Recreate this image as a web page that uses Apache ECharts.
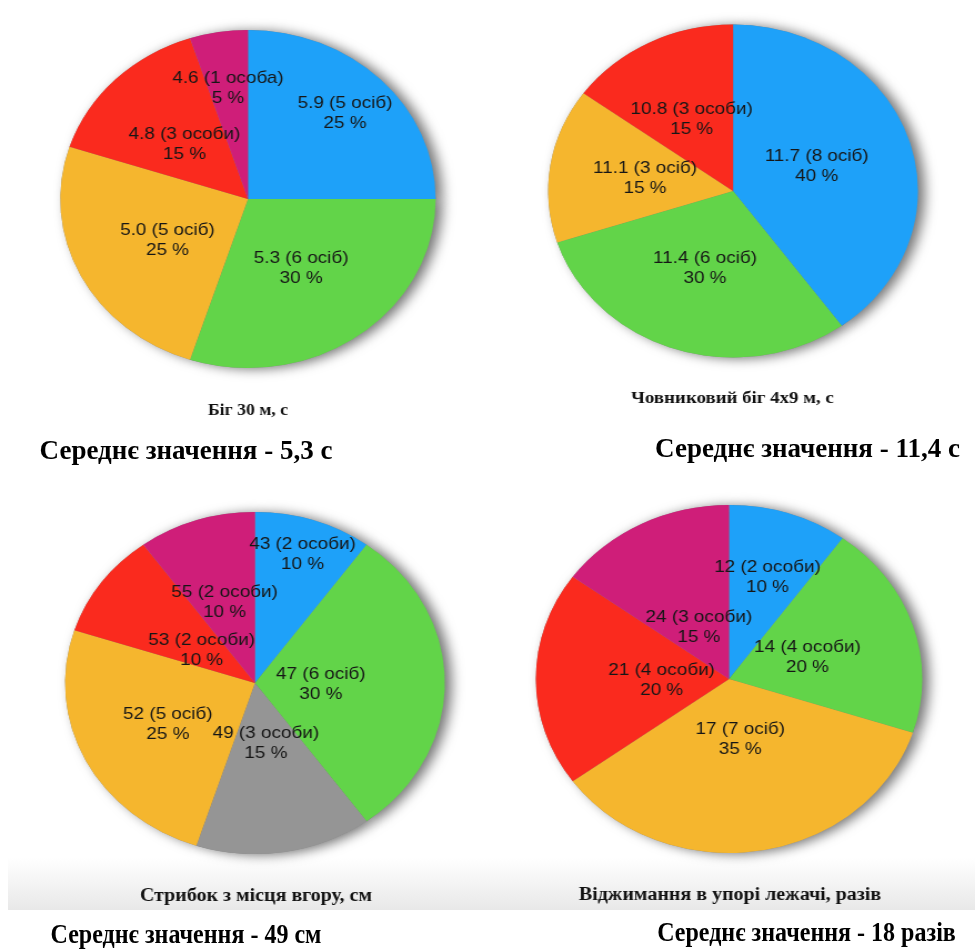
<!DOCTYPE html>
<html>
<head>
<meta charset="utf-8">
<script src="https://cdn.jsdelivr.net/npm/echarts@6/dist/echarts.min.js"></script>
<style>
  html, body { margin: 0; padding: 0; background: #ffffff; }
  #page { position: relative; width: 975px; height: 951px; overflow: hidden; }
  #notes { position: absolute; left: 0; top: 0; width: 975px; height: 951px; }
  /* the pie panels are drawn slightly widened, as in the source report */
  #pies { position: absolute; left: 0; top: 0; width: 878px; height: 951px;
          transform: scaleX(1.1105); transform-origin: 0 0; }
</style>
</head>
<body>
<div id="page">
  <div id="notes"></div>
  <div id="pies"></div>
</div>
<script>
// ---- Біг 30 м, с ----
const run30Scores = ['5.9', '5.3', '5.0', '4.8', '4.6'];
const run30Counts = [5, 6, 5, 3, 1];
const run30Words  = ['осіб', 'осіб', 'осіб', 'особи', 'особа'];

// ---- Човниковий біг 4x9 м, с ----
const shuttleScores = ['11.7', '11.4', '11.1', '10.8'];
const shuttleCounts = [8, 6, 3, 3];
const shuttleWords  = ['осіб', 'осіб', 'осіб', 'особи'];

// ---- Стрибок з місця вгору, см ----
const jumpScores = ['43', '47', '49', '52', '53', '55'];
const jumpCounts = [2, 6, 3, 5, 2, 2];
const jumpWords  = ['особи', 'осіб', 'особи', 'осіб', 'особи', 'особи'];

// ---- Віджимання в упорі лежачі, разів ----
const pushScores = ['12', '14', '17', '21', '24'];
const pushCounts = [2, 4, 7, 4, 3];
const pushWords  = ['особи', 'особи', 'осіб', 'особи', 'особи'];

// panel captions and averages
const captions = ['Біг 30 м, с', 'Човниковий біг 4x9 м, с', 'Стрибок з місця вгору, см', 'Віджимання в упорі лежачі, разів'];
const averages = ['Середнє значення - 5,3 с', 'Середнє значення - 11,4 с', 'Середнє значення - 49 см', 'Середнє значення - 18 разів'];

const PALETTE = {
  blue: '#1ea1f9', green: '#62d449', yellow: '#f5b62e',
  red: '#fa2a1e', magenta: '#cf1e79', gray: '#959595'
};

const panels = [
  { scores: run30Scores, counts: run30Counts, words: run30Words,
    hues: ['blue', 'green', 'yellow', 'red', 'magenta'],
    center: [223.3, 199], radius: 169,
    nudge: [[25.5, -24], [-3.6, -1.8], [5.5, 1.3], [4.7, 7], [-4.3, -24.6]],
    caption: { x: 223.3, y: 410.5, size: 16 },
    average: { x: 186, y: 452, size: 27, squeeze: 1 } },
  { scores: shuttleScores, counts: shuttleCounts, words: shuttleWords,
    hues: ['blue', 'green', 'yellow', 'red'],
    center: [660.1, 191], radius: 166.5,
    nudge: [[-6.7, 2.4], [1.4, -4.7], [5.9, 0.8], [1.9, 4.8]],
    caption: { x: 659.6, y: 398.5, size: 17 },
    average: { x: 807.5, y: 450, size: 27, squeeze: 1 } },
  { scores: jumpScores, counts: jumpCounts, words: jumpWords,
    hues: ['blue', 'green', 'gray', 'yellow', 'red', 'magenta'],
    center: [229.6, 683], radius: 171,
    nudge: [[15.5, -44.1], [-29.2, 1.3], [-4, -27.1], [0.4, 1.1], [23.6, 19], [0, 3.2]],
    caption: { x: 230.5, y: 896, size: 18 },
    average: { x: 186, y: 936, size: 27, squeeze: 0.89 } },
  { scores: pushScores, counts: pushCounts, words: pushWords,
    hues: ['blue', 'green', 'yellow', 'red', 'magenta'],
    center: [656.5, 679], radius: 174,
    nudge: [[6.8, -16.4], [-15, 5.8], [-4, -29], [29.3, 1.3], [13.7, 28.2]],
    caption: { x: 657.4, y: 895, size: 18 },
    average: { x: 806.5, y: 934, size: 27, squeeze: 0.89 } }
];

const serifBold = (size) => 'bold ' + size + 'px "Liberation Serif", "Times New Roman", serif';

// background layer: shaded caption strip and the averages
const notes = echarts.init(document.getElementById('notes'), null, { renderer: 'canvas' });
const noteGraphics = [{
  type: 'rect', silent: true, z: 0,
  shape: { x: 8, y: 858, width: 967, height: 52 },
  style: { fill: { type: 'linear', x: 0, y: 0, x2: 0, y2: 1,
    colorStops: [{ offset: 0, color: '#ffffff' }, { offset: 1, color: '#e8e8e8' }] } }
}];
panels.forEach((p, k) => {
  noteGraphics.push({
    type: 'text', silent: true, z: 2,
    x: p.average.x, y: p.average.y,
    scaleX: p.average.squeeze, scaleY: 1,
    style: { text: averages[k], font: serifBold(p.average.size), fill: '#000000',
             textAlign: 'center', textVerticalAlign: 'middle' }
  });
});
notes.setOption({ backgroundColor: '#ffffff', animation: false, graphic: noteGraphics });

// pie layer
const pies = echarts.init(document.getElementById('pies'), null, { renderer: 'canvas' });
const series = [];
const captionGraphics = [];
panels.forEach((p, k) => {
  // soft drop shadow underneath each pie
  series.push({
    type: 'pie', z: 1, silent: true, animation: false,
    center: p.center, radius: p.radius, startAngle: 90, clockwise: true,
    data: p.counts.map(c => ({ value: c })),
    itemStyle: { color: '#8a8a8a', borderWidth: 0, shadowBlur: 12,
                 shadowColor: 'rgba(0,0,0,0.55)', shadowOffsetX: 6, shadowOffsetY: 1 },
    label: { show: false }, labelLine: { show: false },
    emphasis: { disabled: true }
  });
  series.push({
    type: 'pie', z: 2, silent: true, animation: false,
    center: p.center, radius: p.radius, startAngle: 90, clockwise: true,
    avoidLabelOverlap: false,
    data: p.counts.map((c, i) => ({
      value: c, name: p.scores[i],
      itemStyle: { color: PALETTE[p.hues[i]] }
    })),
    itemStyle: { borderWidth: 0 },
    label: {
      show: true, position: 'inside',
      formatter: (prm) => p.scores[prm.dataIndex] + ' (' + p.counts[prm.dataIndex] + ' ' +
                          p.words[prm.dataIndex] + ')\n' + prm.percent + ' %',
      fontFamily: '"Liberation Sans", Arial, Helvetica, sans-serif',
      fontSize: 17, lineHeight: 20, color: '#161616', align: 'center'
    },
    labelLine: { show: false },
    labelLayout: (prm) => ({ dx: p.nudge[prm.dataIndex][0], dy: p.nudge[prm.dataIndex][1] }),
    emphasis: { disabled: true }
  });
  captionGraphics.push({
    type: 'text', silent: true, z: 10,
    x: p.caption.x, y: p.caption.y,
    style: { text: captions[k], font: serifBold(p.caption.size), fill: '#111111',
             textAlign: 'center', textVerticalAlign: 'middle' }
  });
});
pies.setOption({
  backgroundColor: 'transparent',
  animation: false,
  series: series,
  graphic: captionGraphics
});
</script>
</body>
</html>
